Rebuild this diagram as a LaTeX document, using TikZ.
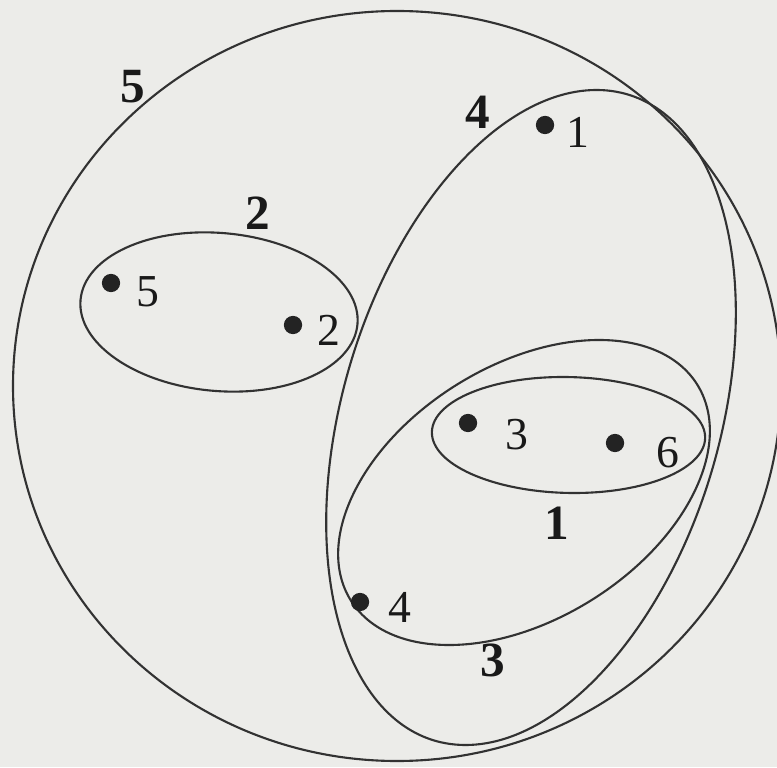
\documentclass[tikz,border=0pt]{standalone}
\usepackage{fontspec}
\setmainfont{Liberation Serif}
\definecolor{bg}{RGB}{236,236,233}
\definecolor{ink}{RGB}{50,50,50}
\begin{document}
\begin{tikzpicture}[x=0.01cm,y=0.01cm,
  hedge/.style={draw=ink, line width=0.6pt},
  vtx/.style={circle, fill=ink!70!black, inner sep=0pt, minimum size=5.2pt},
  vlab/.style={font=\fontsize{13}{15}\selectfont, text=ink!50!black, inner sep=0pt},
  elab/.style={font=\bfseries\fontsize{14}{16}\selectfont, text=ink!50!black, inner sep=0pt}]
\fill[bg] (0,0) rectangle (777,767);
\useasboundingbox (0,0) rectangle (777,767);
% hyperedge 5 (outer loop)
\draw[hedge] (397,381) ellipse [x radius=384, y radius=375];
% hyperedge 4
\begin{scope}[shift={(531,349.5)}, xslant=0.2]
  \draw[hedge] (0,0) ellipse [x radius=194, y radius=327.5];
\end{scope}
% hyperedge 3
\begin{scope}[shift={(524,274.5)}, xslant=0.492]
  \draw[hedge] (0,0) ellipse [x radius=170, y radius=152.5];
\end{scope}
% hyperedge 1
\begin{scope}[shift={(568.5,332)}, xslant=-0.1]
  \draw[hedge] (0,0) ellipse [x radius=136.5, y radius=58];
\end{scope}
% hyperedge 2
\draw[hedge, rotate around={-5:(219,455)}] (219,455) ellipse [x radius=139, y radius=79];
% vertices
\node[vtx] (v1) at (545,642) {};
\node[vlab] (l1) at (578,635) {1};
\node[vtx] (v5) at (111,484) {};
\node[vlab] (l5) at (148,475) {5};
\node[vtx] (v2) at (293,442) {};
\node[vlab] (l2) at (329,437) {2};
\node[vtx] (v3) at (468,344) {};
\node[vlab] (l3) at (517,332) {3};
\node[vtx] (v6) at (615,324) {};
\node[vlab] (l6) at (668,314) {6};
\node[vtx] (v4) at (360,165) {};
\node[vlab] (l4) at (400,160) {4};
% hyperedge labels
\node[elab] (e5) at (133,680) {5};
\node[elab] (e2) at (258,554) {2};
\node[elab] (e4) at (478,655) {4};
\node[elab] (e1) at (557,244) {1};
\node[elab] (e3) at (493,107) {3};
\end{tikzpicture}
\end{document}
